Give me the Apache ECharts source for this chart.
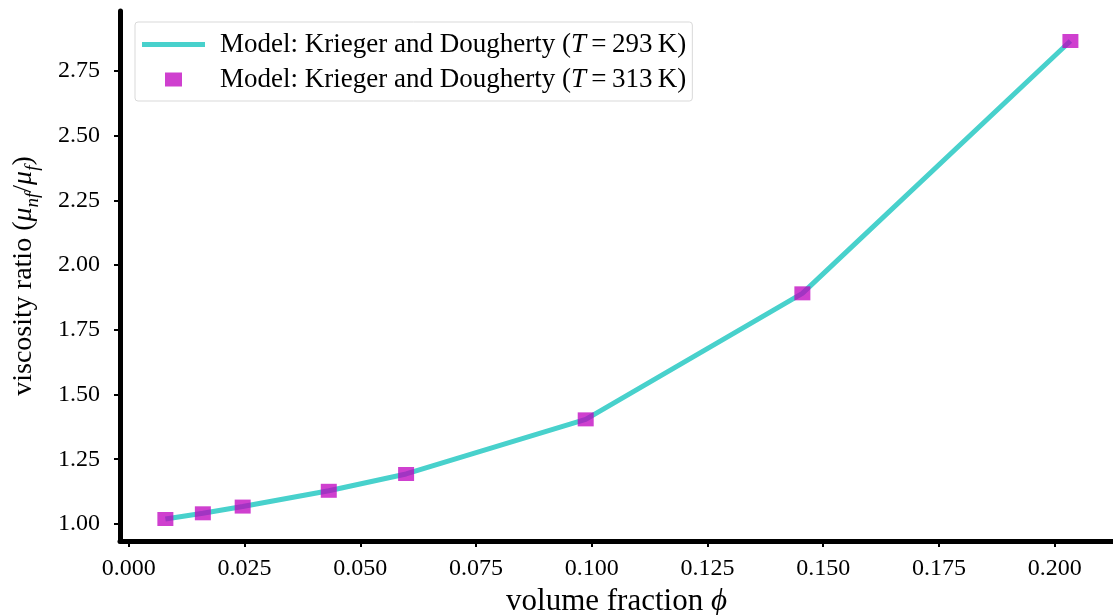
<!DOCTYPE html>
<html><head><meta charset="utf-8">
<script src="https://cdn.jsdelivr.net/npm/echarts@6/dist/echarts.min.js"></script>
<style>html,body{margin:0;padding:0;background:#fff}#c{width:1113px;height:615px}</style>
</head><body><div id="c"></div>
<script>
const phi = [0.0079, 0.0160, 0.0246, 0.0432, 0.0599, 0.0987, 0.1455, 0.2034];
const ratio293 = [1.019, 1.041, 1.067, 1.128, 1.193, 1.404, 1.891, 2.866];
const ratio313 = [1.019, 1.041, 1.067, 1.128, 1.193, 1.404, 1.891, 2.866];
const xTicks = [0.000, 0.025, 0.050, 0.075, 0.100, 0.125, 0.150, 0.175, 0.200];
const yTicks = [1.00, 1.25, 1.50, 1.75, 2.00, 2.25, 2.50, 2.75];
const seriesNames = ['Model: Krieger and Dougherty (T = 293 K)', 'Model: Krieger and Dougherty (T = 313 K)'];
const legendRich = ['{n|Model: Krieger and Dougherty (}{i|T}{n|\u2009=\u2009293\u2009K)}', '{n|Model: Krieger and Dougherty (}{i|T}{n|\u2009=\u2009313\u2009K)}'];

const FONT = '"Liberation Serif", "DejaVu Serif", serif';
const LINE_C = '#48D1CC';
const MARK_C = '#bf00bf';
const chart = echarts.init(document.getElementById('c'), null, {renderer: 'canvas'});
chart.setOption({
  animation: false,
  backgroundColor: '#fff',
  grid: {left: 120, right: 0, top: 11, bottom: 74, containLabel: false, outerBoundsMode: 'none'},
  legend: {
    orient: 'vertical', left: 135, top: 22,
    padding: [9, 6, 8, 7],
    itemGap: 8, itemWidth: 63, itemHeight: 14,
    backgroundColor: '#fff', borderColor: '#d9d9d9', borderWidth: 1, borderRadius: 3,
    data: [
      {name: seriesNames[0], icon: 'path://M0,0M63,14M0,4.5h63v5h-63z', itemStyle: {color: LINE_C, opacity: 1}},
      {name: seriesNames[1], icon: 'path://M0,0M63,14M23,0h17v14h-17z', itemStyle: {color: MARK_C, opacity: 0.75}}
    ],
    formatter: function (name) { return legendRich[seriesNames.indexOf(name)]; },
    textStyle: {
      fontFamily: FONT, fontSize: 27, color: '#000', padding: [0, 0, 0, 10],
      rich: {
        n: {fontFamily: FONT, fontSize: 27, color: '#000', lineHeight: 24},
        i: {fontFamily: FONT, fontSize: 27, color: '#000', fontStyle: 'italic', lineHeight: 24}
      }
    }
  },
  xAxis: {
    type: 'value', min: -0.0019, max: 0.2126,
    axisLine: {show: true, onZero: false, lineStyle: {color: '#000', width: 5}},
    axisTick: {show: true, length: 6, lineStyle: {color: '#000', width: 2}, customValues: xTicks},
    axisLabel: {customValues: xTicks, margin: 16, fontFamily: FONT, fontSize: 24, color: '#000',
      formatter: v => v.toFixed(3)},
    splitLine: {show: false},
    name: '{n|volume fraction }{i|\u03d5}', nameLocation: 'middle', nameGap: 44,
    nameTextStyle: {fontFamily: FONT, fontSize: 31, color: '#000',
      rich: {n: {fontFamily: FONT, fontSize: 31, color: '#000'}, i: {fontFamily: FONT, fontSize: 31, color: '#000', fontStyle: 'italic'}}}
  },
  yAxis: {
    type: 'value', min: 0.934, max: 2.982,
    axisLine: {show: true, onZero: false, lineStyle: {color: '#000', width: 5}},
    axisTick: {show: true, length: 6, lineStyle: {color: '#000', width: 2}, customValues: yTicks},
    axisLabel: {customValues: yTicks, margin: 20, fontFamily: FONT, fontSize: 24, color: '#000',
      formatter: v => v.toFixed(2)},
    splitLine: {show: false},
    name: '{n|viscosity ratio (}{i|\u03bc}{s|nf}{n|/}{i|\u03bc}{s|f}{n|)}', nameLocation: 'middle', nameGap: 82,
    nameTextStyle: {fontFamily: FONT, fontSize: 28, color: '#000',
      rich: {
        n: {fontFamily: FONT, fontSize: 28, color: '#000', lineHeight: 32, verticalAlign: 'bottom'},
        i: {fontFamily: FONT, fontSize: 28, color: '#000', fontStyle: 'italic', lineHeight: 32, verticalAlign: 'bottom'},
        s: {fontFamily: FONT, fontSize: 19, color: '#000', fontStyle: 'italic', lineHeight: 22, verticalAlign: 'bottom', padding: [0, 0, -4, 0]}
      }}
  },
  series: [
    {
      name: seriesNames[0], type: 'line', data: phi.map((x, i) => [x, ratio293[i]]),
      symbol: 'none', lineStyle: {color: LINE_C, width: 5}, itemStyle: {color: LINE_C}, z: 2
    },
    {
      name: seriesNames[1], type: 'scatter', data: phi.map((x, i) => [x, ratio313[i]]),
      symbol: 'rect', symbolSize: [16, 14],
      itemStyle: {color: MARK_C, opacity: 0.75}, z: 3
    }
  ]
});
</script></body></html>
